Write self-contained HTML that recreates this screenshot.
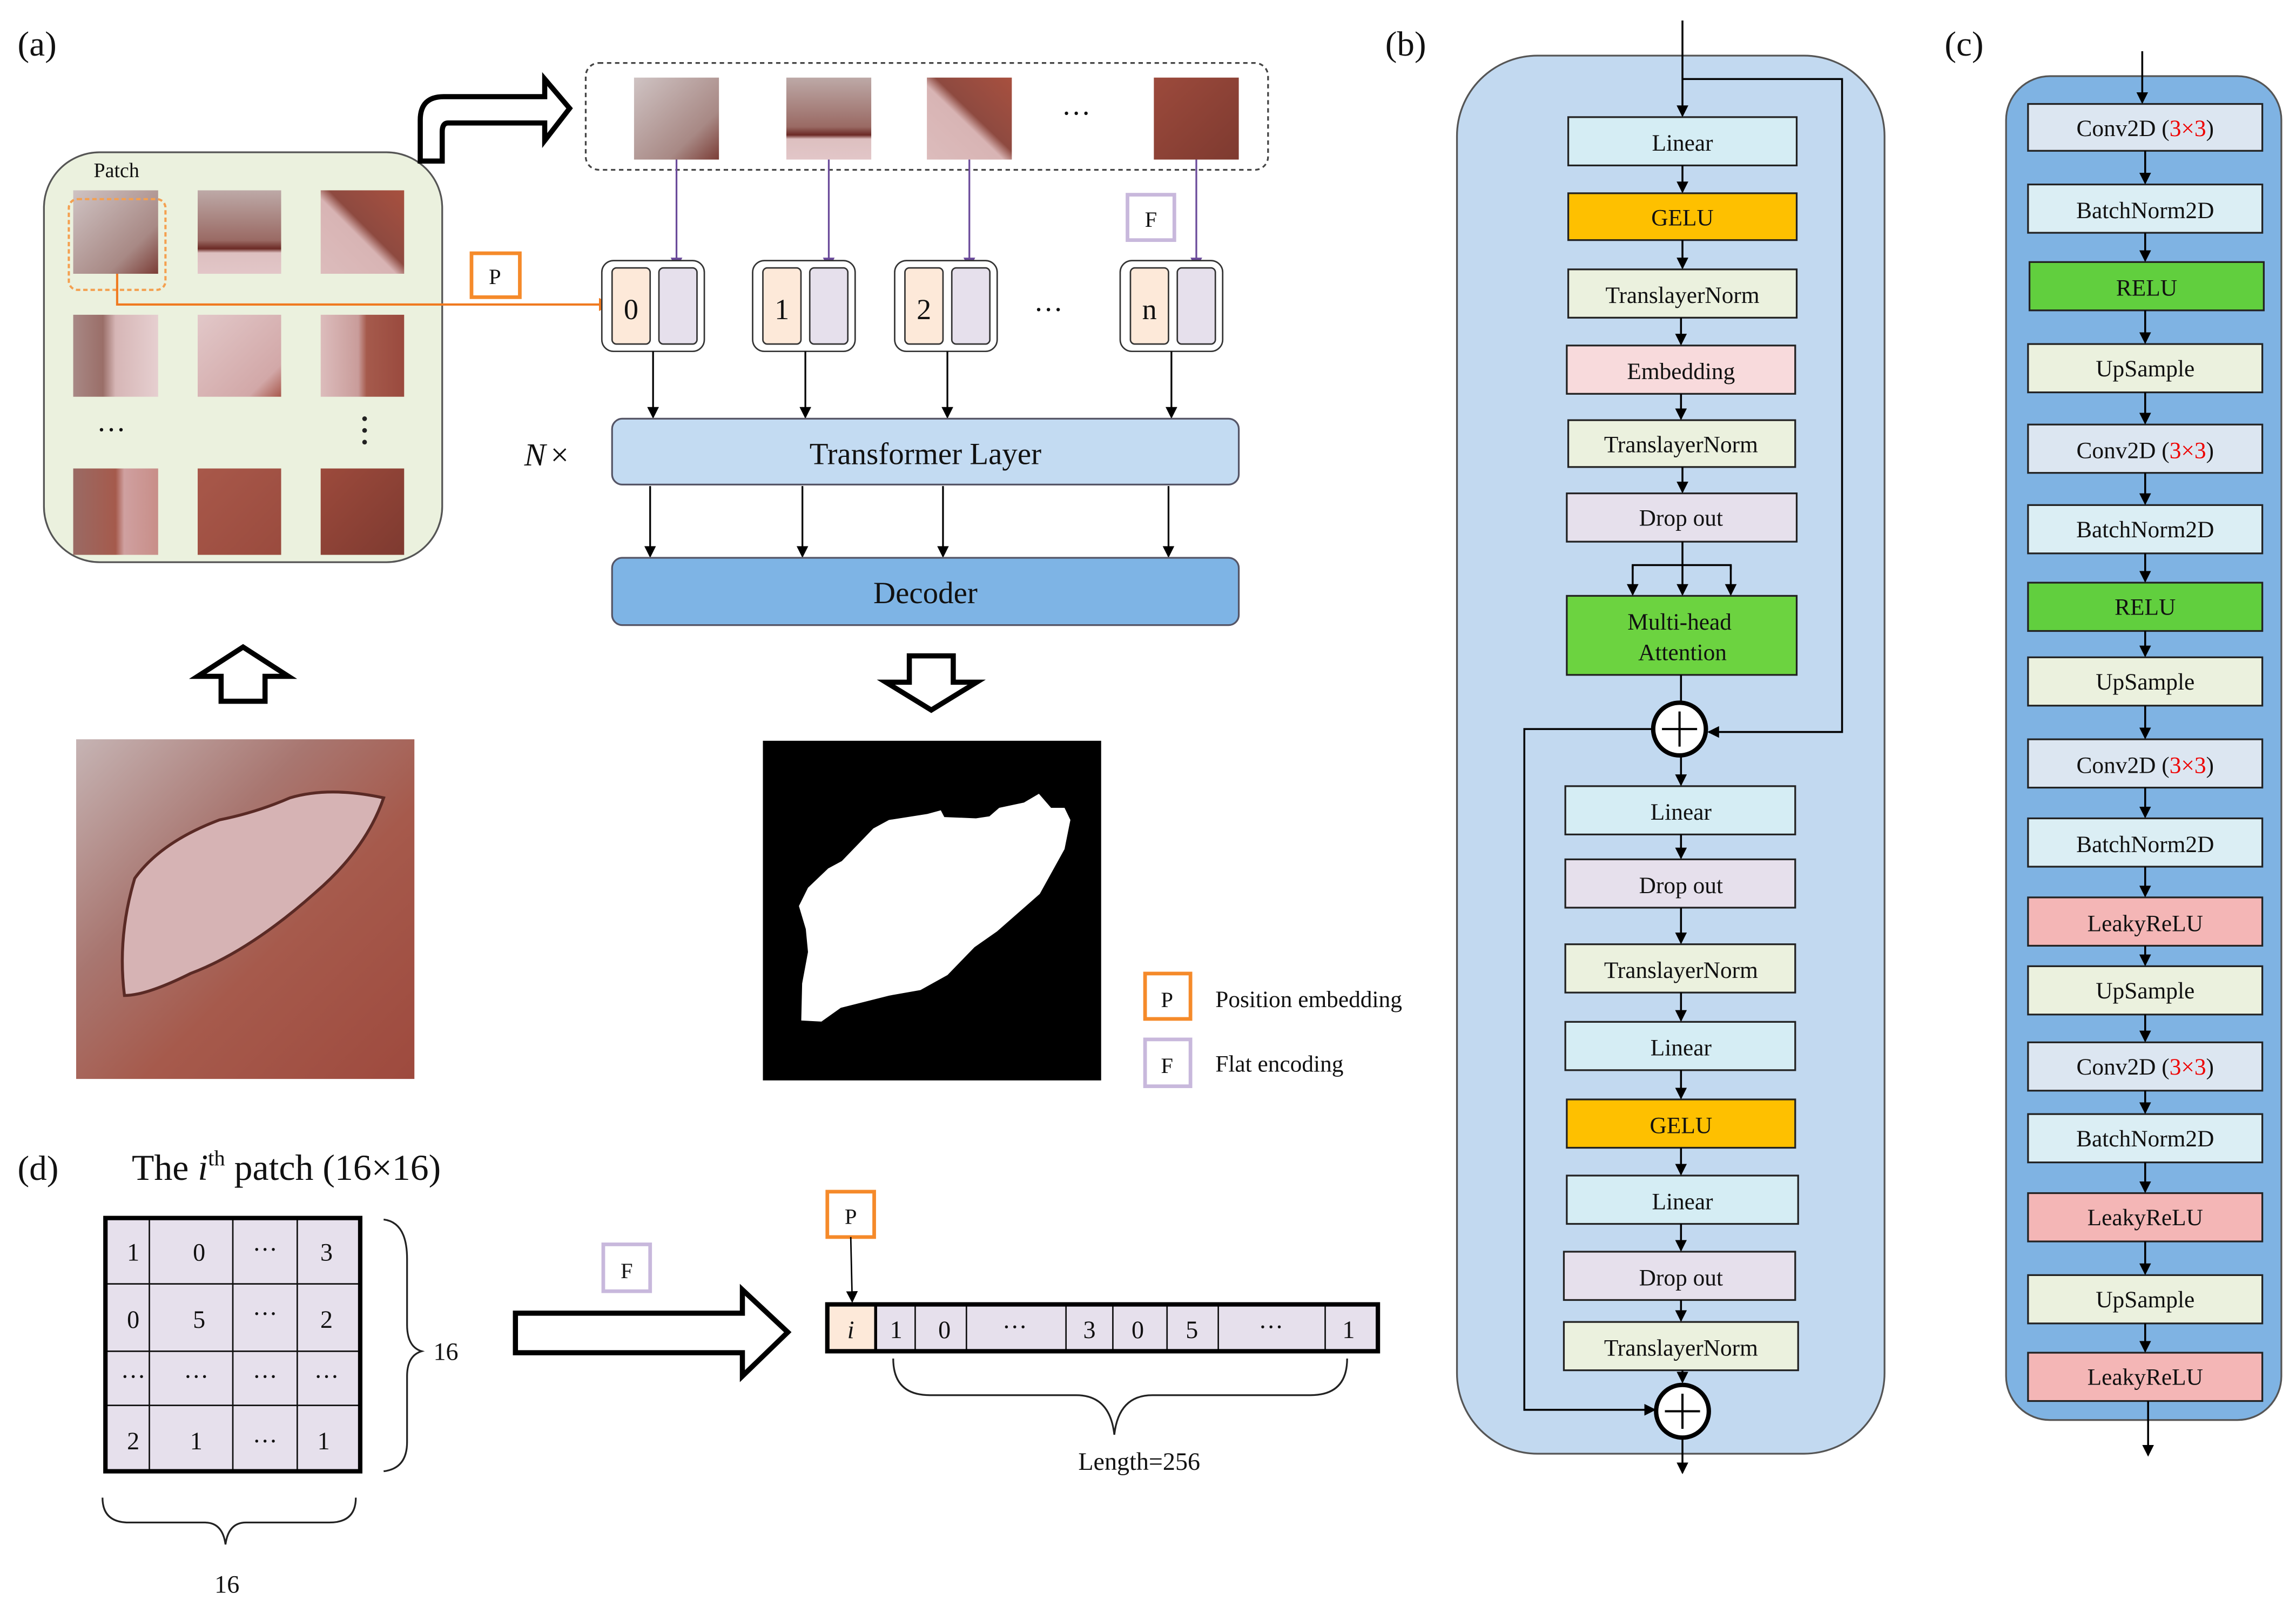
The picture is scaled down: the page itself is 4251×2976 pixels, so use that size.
<!DOCTYPE html>
<html><head><meta charset="utf-8"><style>
html,body{margin:0;padding:0;background:#fff}
svg{display:block}
text{font-family:"Liberation Serif",serif;fill:#111}
</style></head><body>
<svg xmlns="http://www.w3.org/2000/svg" width="4251" height="2976" viewBox="0 0 1568 1097.7">
<defs>
<marker id="ah" markerWidth="8" markerHeight="8" refX="7" refY="4" orient="auto" markerUnits="userSpaceOnUse"><path d="M0,0 L8,4 L0,8 Z" fill="#000"/></marker>
<marker id="ahp" markerWidth="8" markerHeight="8" refX="7" refY="4" orient="auto" markerUnits="userSpaceOnUse"><path d="M0,0 L8,4 L0,8 Z" fill="#6a4a9a"/></marker>
<marker id="aho" markerWidth="9" markerHeight="9" refX="8" refY="4.5" orient="auto" markerUnits="userSpaceOnUse"><path d="M0,0 L9,4.5 L0,9 Z" fill="#f07a20"/></marker>
<linearGradient id="gw" x1="0" y1="0" x2="1" y2="1"><stop offset="0" stop-color="#cfc3c3"/><stop offset="0.7" stop-color="#a88985"/><stop offset="1" stop-color="#7b3d36"/></linearGradient>
<linearGradient id="gwp" x1="0" y1="0" x2="0" y2="1"><stop offset="0" stop-color="#bda9a7"/><stop offset="0.6" stop-color="#9a6a64"/><stop offset="0.7" stop-color="#6b2a25"/><stop offset="0.75" stop-color="#ddc0c0"/><stop offset="1" stop-color="#e2c6c8"/></linearGradient>
<linearGradient id="grp" x1="1" y1="0" x2="0" y2="1"><stop offset="0" stop-color="#a8503f"/><stop offset="0.45" stop-color="#8e4a40"/><stop offset="0.55" stop-color="#d8b4b4"/><stop offset="1" stop-color="#dcbcbc"/></linearGradient>
<linearGradient id="gtp" x1="0" y1="0" x2="1" y2="0"><stop offset="0" stop-color="#a88885"/><stop offset="0.35" stop-color="#9a6e68"/><stop offset="0.5" stop-color="#d6b6b6"/><stop offset="1" stop-color="#e6cfd0"/></linearGradient>
<linearGradient id="gp" x1="0" y1="0" x2="1" y2="1"><stop offset="0" stop-color="#e2c8c9"/><stop offset="0.8" stop-color="#d2a8a8"/><stop offset="1" stop-color="#a8584c"/></linearGradient>
<linearGradient id="gpr" x1="0" y1="0" x2="1" y2="0"><stop offset="0" stop-color="#dcbcbc"/><stop offset="0.45" stop-color="#c99c9a"/><stop offset="0.55" stop-color="#a55a4c"/><stop offset="1" stop-color="#9a4a3e"/></linearGradient>
<linearGradient id="grp2" x1="0" y1="0" x2="1" y2="0"><stop offset="0" stop-color="#9a6a64"/><stop offset="0.5" stop-color="#a55a4c"/><stop offset="0.6" stop-color="#cfa0a0"/><stop offset="1" stop-color="#c88e88"/></linearGradient>
<linearGradient id="gr" x1="0" y1="0" x2="1" y2="1"><stop offset="0" stop-color="#a8584a"/><stop offset="1" stop-color="#9a4b3e"/></linearGradient>
<linearGradient id="grd" x1="0" y1="0" x2="1" y2="1"><stop offset="0" stop-color="#9c4a3c"/><stop offset="1" stop-color="#7e3a30"/></linearGradient>
<linearGradient id="gimg" x1="0" y1="0" x2="1" y2="1"><stop offset="0" stop-color="#c6b4b4"/><stop offset="0.35" stop-color="#a87670"/><stop offset="0.6" stop-color="#a65a4c"/><stop offset="1" stop-color="#9e4a3e"/></linearGradient>
</defs>

<!-- ===== (a) ===== -->
<text x="12" y="38" font-size="24">(a)</text>
<rect x="30" y="104" width="272" height="280" rx="38" fill="#ebf1de" stroke="#555" stroke-width="1.2"/>
<text x="64" y="121" font-size="14">Patch</text>
<rect x="50" y="130" width="58" height="57" fill="url(#gw)"/>
<rect x="135" y="130" width="57" height="57" fill="url(#gwp)"/>
<rect x="219" y="130" width="57" height="57" fill="url(#grp)"/>
<rect x="50" y="215" width="58" height="56" fill="url(#gtp)"/>
<rect x="135" y="215" width="57" height="56" fill="url(#gp)"/>
<rect x="219" y="215" width="57" height="56" fill="url(#gpr)"/>
<rect x="50" y="320" width="58" height="59" fill="url(#grp2)"/>
<rect x="135" y="320" width="57" height="59" fill="url(#gr)"/>
<rect x="219" y="320" width="57" height="59" fill="url(#grd)"/>
<rect x="47" y="136" width="66" height="62" rx="6" fill="none" stroke="#f4a050" stroke-width="1.5" stroke-dasharray="3,2"/>
<text x="66" y="300" font-size="20">···</text>
<circle cx="249" cy="286" r="1.6" fill="#222"/><circle cx="249" cy="294" r="1.6" fill="#222"/><circle cx="249" cy="302" r="1.6" fill="#222"/>

<!-- bent arrow -->
<path d="M287,110 L287,82 Q287,66 303,66 L372,66 L372,54 L389,74 L372,96 L372,84 L306,84 Q302,84 302,90 L302,110 Z" fill="#fff" stroke="#000" stroke-width="3.5" stroke-linejoin="miter"/>

<!-- dashed row -->
<rect x="400" y="43" width="466" height="73" rx="9" fill="none" stroke="#444" stroke-width="1.2" stroke-dasharray="3,2.5"/>
<rect x="433" y="53" width="58" height="56" fill="url(#gw)"/>
<rect x="537" y="53" width="58" height="56" fill="url(#gwp)"/>
<rect x="633" y="53" width="58" height="56" fill="url(#grp)"/>
<text x="725" y="84" font-size="20">···</text>
<rect x="788" y="53" width="58" height="56" fill="url(#grd)"/>

<!-- purple arrows -->
<g stroke="#6a4a9a" stroke-width="1.2" marker-end="url(#ahp)">
<line x1="462" y1="109" x2="462" y2="183"/>
<line x1="566" y1="109" x2="566" y2="183"/>
<line x1="662" y1="109" x2="662" y2="183"/>
<line x1="817" y1="109" x2="817" y2="183"/>
</g>
<rect x="770" y="133" width="32" height="31" fill="#fff" stroke="#c8b8dc" stroke-width="2.5"/>
<text x="786" y="155" font-size="15" text-anchor="middle">F</text>

<!-- P box + orange arrow -->
<rect x="322" y="173" width="33" height="30" fill="#fff" stroke="#f58a2a" stroke-width="2.5"/>
<text x="338" y="194" font-size="15" text-anchor="middle">P</text>
<path d="M80,187 L80,208 L417,208" fill="none" stroke="#f07a20" stroke-width="1.5" marker-end="url(#aho)"/>

<!-- token boxes -->
<g stroke="#333" stroke-width="1">
<rect x="411" y="178" width="70" height="62" rx="8" fill="#fff"/>
<rect x="418" y="183" width="26" height="52" rx="3" fill="#fde9d9"/><rect x="450" y="183" width="26" height="52" rx="3" fill="#e6e0ec"/>
<rect x="514" y="178" width="70" height="62" rx="8" fill="#fff"/>
<rect x="521" y="183" width="26" height="52" rx="3" fill="#fde9d9"/><rect x="553" y="183" width="26" height="52" rx="3" fill="#e6e0ec"/>
<rect x="611" y="178" width="70" height="62" rx="8" fill="#fff"/>
<rect x="618" y="183" width="26" height="52" rx="3" fill="#fde9d9"/><rect x="650" y="183" width="26" height="52" rx="3" fill="#e6e0ec"/>
<rect x="765" y="178" width="70" height="62" rx="8" fill="#fff"/>
<rect x="772" y="183" width="26" height="52" rx="3" fill="#fde9d9"/><rect x="804" y="183" width="26" height="52" rx="3" fill="#e6e0ec"/>
</g>
<g font-size="20" text-anchor="middle">
<text x="431" y="218">0</text><text x="534" y="218">1</text><text x="631" y="218">2</text><text x="785" y="218">n</text>
</g>
<text x="706" y="218" font-size="20">···</text>

<g stroke="#000" stroke-width="1.2" marker-end="url(#ah)">
<line x1="446" y1="240" x2="446" y2="285"/><line x1="550" y1="240" x2="550" y2="285"/>
<line x1="647" y1="240" x2="647" y2="285"/><line x1="800" y1="240" x2="800" y2="285"/>
<line x1="444" y1="332" x2="444" y2="380"/><line x1="548" y1="332" x2="548" y2="380"/>
<line x1="644" y1="332" x2="644" y2="380"/><line x1="798" y1="332" x2="798" y2="380"/>
</g>
<text x="358" y="318" font-size="22" font-style="italic">N</text><text x="376" y="318" font-size="22">×</text>
<rect x="418" y="286" width="428" height="45" rx="7" fill="#c3dbf2" stroke="#556" stroke-width="1.2"/>
<text x="632" y="317" font-size="21" text-anchor="middle">Transformer Layer</text>
<rect x="418" y="381" width="428" height="46" rx="7" fill="#7eb4e5" stroke="#556" stroke-width="1.2"/>
<text x="632" y="412" font-size="21" text-anchor="middle">Decoder</text>

<!-- outline arrows -->
<path d="M151,479 L151,462 L135,462 L166,442 L197,462 L181,462 L181,479 Z" fill="#fff" stroke="#000" stroke-width="3.5"/>
<path d="M621,448 L651,448 L651,466 L667,466 L636,485 L605,466 L621,466 Z" fill="#fff" stroke="#000" stroke-width="3.5"/>

<!-- input image -->
<rect x="52" y="505" width="231" height="232" fill="url(#gimg)"/>
<path d="M85,680 Q80,640 92,600 Q110,575 150,560 Q175,555 198,545 Q225,537 262,545 Q250,580 215,610 Q170,650 130,665 Q100,680 85,680 Z" fill="#d6b3b4" stroke="#5a2a25" stroke-width="2"/>

<!-- mask -->
<rect x="521" y="506" width="231" height="232" fill="#000"/>
<path d="M547.2,697.1 L561,697.8 L574.2,688.4 L607.1,680.1 L628.6,676.3 L647.1,666 L665.5,647 L680.9,636.2 L710.1,610.6 L727,580 L731,560.1 L727,551.8 L717.8,551.8 L709.5,542.2 L699.3,548.2 L682.4,551.8 L675.7,557.6 L666.5,559 L644.9,558.1 L642.5,553.5 L633.3,556 L607.1,560.1 L596.4,565.9 L574.9,588.2 L565.6,593.2 L551.8,606.4 L545.6,618.9 L550.3,634.6 L551.8,650.3 L547.8,671.8 Z" fill="#fff"/>

<!-- legend -->
<rect x="782" y="665" width="31" height="31" fill="#fff" stroke="#f58a2a" stroke-width="2.5"/>
<text x="797" y="688" font-size="15" text-anchor="middle">P</text>
<text x="830" y="688" font-size="16">Position embedding</text>
<rect x="782" y="710" width="31" height="32" fill="#fff" stroke="#c8b8dc" stroke-width="2.5"/>
<text x="797" y="733" font-size="15" text-anchor="middle">F</text>
<text x="830" y="732" font-size="16">Flat encoding</text>

<!-- ===== (d) ===== -->
<text x="12" y="806" font-size="24">(d)</text>
<text x="90" y="806" font-size="25">The <tspan font-style="italic">i</tspan><tspan font-size="15" dy="-10">th</tspan><tspan dy="10"> patch (16×16)</tspan></text>
<rect x="72" y="832" width="174" height="173" fill="#e6e0ec"/>
<g stroke="#111" stroke-width="1">
<line x1="102" y1="832" x2="102" y2="1005"/><line x1="159" y1="832" x2="159" y2="1005"/><line x1="203" y1="832" x2="203" y2="1005"/>
<line x1="72" y1="877" x2="246" y2="877"/><line x1="72" y1="923" x2="246" y2="923"/><line x1="72" y1="960" x2="246" y2="960"/>
</g>
<rect x="72" y="832" width="174" height="173" fill="none" stroke="#000" stroke-width="3"/>
<g font-size="17" text-anchor="middle">
<text x="91" y="861">1</text><text x="136" y="861">0</text><text x="181" y="859">···</text><text x="223" y="861">3</text>
<text x="91" y="907">0</text><text x="136" y="907">5</text><text x="181" y="903">···</text><text x="223" y="907">2</text>
<text x="91" y="946">···</text><text x="134" y="946">···</text><text x="181" y="946">···</text><text x="223" y="946">···</text>
<text x="91" y="990">2</text><text x="134" y="990">1</text><text x="181" y="990">···</text><text x="221" y="990">1</text>
</g>
<path d="M262,833 Q278,835 278,860 L278,905 Q278,920 288,923 Q278,926 278,940 L278,985 Q278,1003 262,1005" fill="none" stroke="#222" stroke-width="1.2"/>
<text x="296" y="929" font-size="17">16</text>
<path d="M70,1023 Q70,1040 88,1040 L140,1040 Q152,1040 154,1055 Q156,1040 168,1040 L225,1040 Q243,1040 243,1023" fill="none" stroke="#222" stroke-width="1.2"/>
<text x="155" y="1088" font-size="17" text-anchor="middle">16</text>

<rect x="412" y="850" width="32" height="32" fill="#fff" stroke="#c8b8dc" stroke-width="2.5"/>
<text x="428" y="873" font-size="15" text-anchor="middle">F</text>
<path d="M352,897 L507,897 L507,881 L538,910 L507,940 L507,924 L352,924 Z" fill="#fff" stroke="#000" stroke-width="3.5"/>

<rect x="565" y="814" width="32" height="31" fill="#fff" stroke="#f58a2a" stroke-width="2.5"/>
<text x="581" y="836" font-size="15" text-anchor="middle">P</text>
<line x1="581" y1="845" x2="582" y2="889" stroke="#000" stroke-width="1" marker-end="url(#ah)"/>

<rect x="565" y="891" width="33" height="32" fill="#fde9d9"/>
<rect x="598" y="891" width="343" height="32" fill="#e6e0ec"/>
<g stroke="#111" stroke-width="1">
<line x1="625" y1="891" x2="625" y2="923"/><line x1="660" y1="891" x2="660" y2="923"/><line x1="728" y1="891" x2="728" y2="923"/>
<line x1="760" y1="891" x2="760" y2="923"/><line x1="797" y1="891" x2="797" y2="923"/><line x1="832" y1="891" x2="832" y2="923"/><line x1="905" y1="891" x2="905" y2="923"/>
</g>
<line x1="598" y1="891" x2="598" y2="923" stroke="#000" stroke-width="2"/>
<rect x="565" y="891" width="376" height="32" fill="none" stroke="#000" stroke-width="3"/>
<g font-size="17" text-anchor="middle">
<text x="581" y="914" font-style="italic">i</text><text x="612" y="914">1</text><text x="645" y="914">0</text><text x="693" y="912">···</text>
<text x="744" y="914">3</text><text x="777" y="914">0</text><text x="814" y="914">5</text><text x="868" y="912">···</text><text x="921" y="914">1</text>
</g>
<path d="M610,928 Q610,953 635,953 L735,953 Q758,953 761,980 Q764,953 787,953 L895,953 Q920,953 920,928" fill="none" stroke="#222" stroke-width="1.2"/>
<text x="778" y="1004" font-size="17" text-anchor="middle">Length=256</text>

<!-- ===== (b) ===== -->
<text x="946" y="38" font-size="24">(b)</text>
<rect x="995" y="38" width="292" height="955" rx="55" fill="#c2d9f0" stroke="#555" stroke-width="1.2"/>
<g stroke="#222" stroke-width="1.2">
<rect x="1071" y="80" width="156" height="33" fill="#d5edf4"/>
<rect x="1071" y="132" width="156" height="32" fill="#fec000"/>
<rect x="1071" y="184" width="156" height="33" fill="#ebf1de"/>
<rect x="1070" y="236" width="156" height="33" fill="#f8dadc"/>
<rect x="1071" y="287" width="155" height="32" fill="#ebf1de"/>
<rect x="1070" y="337" width="157" height="33" fill="#e6e0ec"/>
<rect x="1070" y="407" width="157" height="54" fill="#6cd340"/>
<rect x="1069" y="537" width="157" height="33" fill="#d5edf4"/>
<rect x="1069" y="587" width="157" height="33" fill="#e6e0ec"/>
<rect x="1069" y="645" width="157" height="33" fill="#ebf1de"/>
<rect x="1069" y="698" width="157" height="33" fill="#d5edf4"/>
<rect x="1070" y="751" width="156" height="33" fill="#fec000"/>
<rect x="1070" y="803" width="158" height="33" fill="#d5edf4"/>
<rect x="1068" y="855" width="158" height="33" fill="#e6e0ec"/>
<rect x="1068" y="903" width="160" height="33" fill="#ebf1de"/>
</g>
<g font-size="16" text-anchor="middle">
<text x="1149" y="103">Linear</text><text x="1149" y="154">GELU</text><text x="1149" y="207">TranslayerNorm</text>
<text x="1148" y="259">Embedding</text><text x="1148" y="309">TranslayerNorm</text><text x="1148" y="359">Drop out</text>
<text x="1147" y="430">Multi-head</text><text x="1149" y="451">Attention</text>
<text x="1148" y="560">Linear</text><text x="1148" y="610">Drop out</text><text x="1148" y="668">TranslayerNorm</text>
<text x="1148" y="721">Linear</text><text x="1148" y="774">GELU</text><text x="1149" y="826">Linear</text>
<text x="1148" y="878">Drop out</text><text x="1148" y="926">TranslayerNorm</text>
</g>
<g stroke="#000" stroke-width="1.3" fill="none">
<line x1="1149" y1="14" x2="1149" y2="79" marker-end="url(#ah)"/>
<polyline points="1149,54 1258,54 1258,500 1167,500" marker-end="url(#ah)"/>
<line x1="1149" y1="113" x2="1149" y2="131" marker-end="url(#ah)"/>
<line x1="1149" y1="164" x2="1149" y2="183" marker-end="url(#ah)"/>
<line x1="1148" y1="217" x2="1148" y2="235" marker-end="url(#ah)"/>
<line x1="1148" y1="269" x2="1148" y2="286" marker-end="url(#ah)"/>
<line x1="1149" y1="319" x2="1149" y2="336" marker-end="url(#ah)"/>
<line x1="1149" y1="370" x2="1149" y2="406" marker-end="url(#ah)"/>
<polyline points="1115,389 1115,386 1182,386 1182,389"/>
<line x1="1115" y1="386" x2="1115" y2="406" marker-end="url(#ah)"/>
<line x1="1182" y1="386" x2="1182" y2="406" marker-end="url(#ah)"/>
<line x1="1148" y1="461" x2="1148" y2="479"/>
<line x1="1148" y1="516" x2="1148" y2="536" marker-end="url(#ah)"/>
<polyline points="1129,498 1041,498 1041,963 1130,963" marker-end="url(#ah)"/>
<line x1="1148" y1="570" x2="1148" y2="586" marker-end="url(#ah)"/>
<line x1="1148" y1="620" x2="1148" y2="644" marker-end="url(#ah)"/>
<line x1="1148" y1="678" x2="1148" y2="697" marker-end="url(#ah)"/>
<line x1="1148" y1="731" x2="1148" y2="750" marker-end="url(#ah)"/>
<line x1="1148" y1="784" x2="1148" y2="802" marker-end="url(#ah)"/>
<line x1="1148" y1="836" x2="1148" y2="854" marker-end="url(#ah)"/>
<line x1="1148" y1="888" x2="1148" y2="902" marker-end="url(#ah)"/>
<line x1="1149" y1="936" x2="1149" y2="944" marker-end="url(#ah)"/>
<line x1="1149" y1="982" x2="1149" y2="1006" marker-end="url(#ah)"/>
</g>
<circle cx="1147" cy="498" r="18" fill="#fff" stroke="#000" stroke-width="3"/>
<path d="M1135,498 H1159 M1147,486 V510" stroke="#000" stroke-width="1.5"/>
<circle cx="1149" cy="964" r="18" fill="#fff" stroke="#000" stroke-width="3"/>
<path d="M1137,964 H1161 M1149,952 V976" stroke="#000" stroke-width="1.5"/>

<!-- ===== (c) ===== -->
<text x="1328" y="38" font-size="24">(c)</text>
<rect x="1370" y="52" width="188" height="918" rx="30" fill="#7fb3e3" stroke="#555" stroke-width="1.2"/>
<g stroke="#222" stroke-width="1.2">
<rect x="1385" y="71" width="160" height="32" fill="#dce6f1"/>
<rect x="1385" y="126" width="160" height="33" fill="#dbeef4"/>
<rect x="1386" y="179" width="160" height="33" fill="#61cf3e"/>
<rect x="1385" y="235" width="160" height="33" fill="#ebf1de"/>
<rect x="1385" y="290" width="160" height="33" fill="#dce6f1"/>
<rect x="1385" y="345" width="160" height="33" fill="#dbeef4"/>
<rect x="1385" y="398" width="160" height="33" fill="#61cf3e"/>
<rect x="1385" y="449" width="160" height="33" fill="#ebf1de"/>
<rect x="1385" y="505" width="160" height="33" fill="#dce6f1"/>
<rect x="1385" y="559" width="160" height="33" fill="#dbeef4"/>
<rect x="1385" y="613" width="160" height="33" fill="#f4b6b6"/>
<rect x="1385" y="660" width="160" height="33" fill="#ebf1de"/>
<rect x="1385" y="712" width="160" height="33" fill="#dce6f1"/>
<rect x="1385" y="761" width="160" height="33" fill="#dbeef4"/>
<rect x="1385" y="815" width="160" height="33" fill="#f4b6b6"/>
<rect x="1385" y="871" width="160" height="33" fill="#ebf1de"/>
<rect x="1385" y="924" width="160" height="33" fill="#f4b6b6"/>
</g>
<g font-size="16" text-anchor="middle">
<text x="1465" y="93">Conv2D (<tspan fill="#e00">3×3</tspan>)</text>
<text x="1465" y="149">BatchNorm2D</text>
<text x="1466" y="202">RELU</text>
<text x="1465" y="257">UpSample</text>
<text x="1465" y="313">Conv2D (<tspan fill="#e00">3×3</tspan>)</text>
<text x="1465" y="367">BatchNorm2D</text>
<text x="1465" y="420">RELU</text>
<text x="1465" y="471">UpSample</text>
<text x="1465" y="528">Conv2D (<tspan fill="#e00">3×3</tspan>)</text>
<text x="1465" y="582">BatchNorm2D</text>
<text x="1465" y="636">LeakyReLU</text>
<text x="1465" y="682">UpSample</text>
<text x="1465" y="734">Conv2D (<tspan fill="#e00">3×3</tspan>)</text>
<text x="1465" y="783">BatchNorm2D</text>
<text x="1465" y="837">LeakyReLU</text>
<text x="1465" y="893">UpSample</text>
<text x="1465" y="946">LeakyReLU</text>
</g>
<g stroke="#000" stroke-width="1.3" marker-end="url(#ah)">
<line x1="1463" y1="35" x2="1463" y2="70"/>
<line x1="1465" y1="103" x2="1465" y2="125"/>
<line x1="1465" y1="159" x2="1465" y2="178"/>
<line x1="1465" y1="212" x2="1465" y2="234"/>
<line x1="1465" y1="268" x2="1465" y2="289"/>
<line x1="1465" y1="323" x2="1465" y2="344"/>
<line x1="1465" y1="378" x2="1465" y2="397"/>
<line x1="1465" y1="431" x2="1465" y2="448"/>
<line x1="1465" y1="482" x2="1465" y2="504"/>
<line x1="1465" y1="538" x2="1465" y2="558"/>
<line x1="1465" y1="592" x2="1465" y2="612"/>
<line x1="1465" y1="646" x2="1465" y2="659"/>
<line x1="1465" y1="693" x2="1465" y2="711"/>
<line x1="1465" y1="745" x2="1465" y2="760"/>
<line x1="1465" y1="794" x2="1465" y2="814"/>
<line x1="1465" y1="848" x2="1465" y2="870"/>
<line x1="1465" y1="904" x2="1465" y2="923"/>
<line x1="1467" y1="957" x2="1467" y2="994"/>
</g>
</svg>
</body></html>
